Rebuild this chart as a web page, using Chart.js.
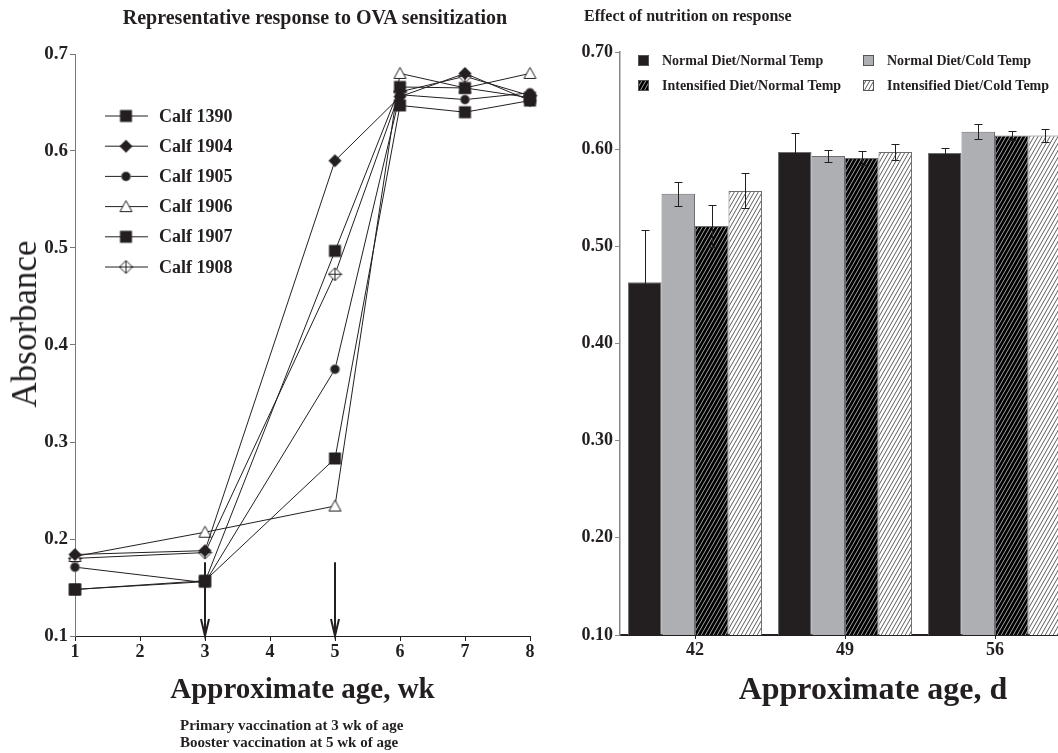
<!DOCTYPE html>
<html>
<head>
<meta charset="utf-8">
<script src="https://cdn.jsdelivr.net/npm/chart.js@4.4.0/dist/chart.umd.min.js"></script>
<style>
    html, body { margin: 0; padding: 0; width: 1058px; height: 753px; overflow: hidden; background: #fff; }
    body { font-family: "Liberation Serif", "Times New Roman", serif; color: #231f20; }
    #left { position: absolute; left: 0; top: 0; width: 560px; height: 753px; }
    #right { position: absolute; left: 560px; top: 0; width: 520px; height: 753px; }
    .lbl { position: absolute; white-space: nowrap; }
    .leftTitle { left: 0; width: 630px; top: 6px; text-align: center; font-weight: bold; font-size: 20px; }
    .rightTitle { left: 584px; top: 7px; font-weight: bold; font-size: 16px; }
    .yTitle { left: 25px; top: 324px; font-size: 35px; transform: translate(-50%, -50%) rotate(-90deg); }
    .xTitleRight { left: 873px; top: 688px; font-weight: bold; font-size: 32px; transform: translate(-50%, -50%); }
    .note { left: 180px; top: 717px; font-weight: bold; font-size: 15px; line-height: 17px; }
</style>
</head>
<body>
<div id="left"><canvas id="ovaChart"></canvas></div>
<div id="right"><canvas id="dietChart"></canvas></div>
<div class="lbl leftTitle">Representative response to OVA sensitization</div>
<div class="lbl rightTitle">Effect of nutrition on response</div>
<div class="lbl yTitle">Absorbance</div>
<div class="lbl xTitleRight">Approximate age, d</div>
<div class="lbl note">Primary vaccination at 3 wk of age<br>Booster vaccination at 5 wk of age</div>
<script>

// ---- left panel data ----
const weeks = [1, 3, 5, 6, 7, 8];
const calfNames = ["Calf 1390", "Calf 1904", "Calf 1905", "Calf 1906", "Calf 1907", "Calf 1908"];
const calf1390 = [0.148, 0.156, 0.497, 0.666, 0.665, 0.655];
const calf1904 = [0.184, 0.188, 0.590, 0.656, 0.680, 0.652];
const calf1905 = [0.171, 0.155, 0.375, 0.658, 0.653, 0.660];
const calf1906 = [0.182, 0.207, 0.234, 0.680, 0.665, 0.680];
const calf1907 = [0.148, 0.157, 0.283, 0.647, 0.640, 0.652];
const calf1908 = [0.180, 0.186, 0.473, 0.661, 0.677, 0.657];
const vaccinationWeeks = [3, 5];

// ---- right panel data ----
const days = ["42", "49", "56"];
const groupNames = [
    "Normal Diet/Normal Temp",
    "Normal Diet/Cold Temp",
    "Intensified Diet/Normal Temp",
    "Intensified Diet/Cold Temp"
];
const normalNormal = [0.463, 0.597, 0.596];
const normalCold = [0.554, 0.593, 0.618];
const intensNormal = [0.521, 0.591, 0.614];
const intensCold = [0.557, 0.597, 0.614];
const normalNormalErr = [0.054, 0.020, 0.005];
const normalColdErr = [0.012, 0.006, 0.008];
const intensNormalErr = [0.022, 0.007, 0.005];
const intensColdErr = [0.018, 0.008, 0.007];

const INK = "#231f20";
const SERIF = "'Liberation Serif', 'Times New Roman', serif";


function makeMarker(kind) {
    const c = document.createElement("canvas");
    c.width = 15;
    c.height = 15;
    const g = c.getContext("2d");
    g.fillStyle = INK;
    g.strokeStyle = INK;
    g.lineWidth = 1;
    if (kind === "square") {
        g.fillRect(1.5, 1.5, 12, 12);
    } else if (kind === "diamond" || kind === "crossDiamond") {
        g.beginPath();
        g.moveTo(7.5, 1); g.lineTo(14, 7.5); g.lineTo(7.5, 14); g.lineTo(1, 7.5);
        g.closePath();
        if (kind === "diamond") {
            g.fill();
        } else {
            g.fillStyle = "#fff";
            g.fill();
            g.stroke();
            g.beginPath();
            g.moveTo(7.5, 1); g.lineTo(7.5, 14);
            g.moveTo(1, 7.5); g.lineTo(14, 7.5);
            g.stroke();
        }
    } else if (kind === "circle") {
        g.beginPath();
        g.arc(7.5, 7.5, 5, 0, Math.PI * 2);
        g.fillStyle = "#888";
        g.fill();
        g.beginPath();
        g.arc(7.5, 7.5, 4.2, 0, Math.PI * 2);
        g.fillStyle = INK;
        g.fill();
    } else if (kind === "triangle") {
        g.beginPath();
        g.moveTo(7.5, 1.5); g.lineTo(13.5, 12.5); g.lineTo(1.5, 12.5);
        g.closePath();
        g.fillStyle = "#fff";
        g.fill();
        g.stroke();
    }
    return c;
}


function makeHatch(bg, fg) {
    const w = 4, h = 7;
    const c = document.createElement("canvas");
    c.width = w;
    c.height = h;
    const g = c.getContext("2d");
    g.fillStyle = bg;
    g.fillRect(0, 0, w, h);
    g.strokeStyle = fg;
    g.lineWidth = 0.8;
    for (let k = -1; k <= 1; k++) {
        g.beginPath();
        g.moveTo(k * w, h);
        g.lineTo(k * w + w, 0);
        g.stroke();
    }
    return g.createPattern(c, "repeat");
}


const markerKinds = ["square", "diamond", "circle", "triangle", "square", "crossDiamond"];
const calfSeries = [calf1390, calf1904, calf1905, calf1906, calf1907, calf1908];

const ovaLegend = {
    id: "ovaLegend",
    afterDraw(chart) {
        const ctx = chart.ctx;
        ctx.save();
        ctx.font = "bold 18px " + SERIF;
        ctx.fillStyle = INK;
        ctx.textBaseline = "middle";
        chart.data.datasets.forEach((ds, i) => {
            const y = 116 + i * 30.2;
            ctx.strokeStyle = INK;
            ctx.lineWidth = 1;
            ctx.beginPath();
            ctx.moveTo(105, y);
            ctx.lineTo(148, y);
            ctx.stroke();
            const img = ds.pointStyle;
            ctx.drawImage(img, 126 - img.width / 2, y - img.height / 2);
            ctx.fillText(ds.label, 159, y + 1);
        });
        ctx.restore();
    }
};

const vaccinationArrows = {
    id: "vaccinationArrows",
    afterDatasetsDraw(chart) {
        const { ctx, scales: { x, y } } = chart;
        ctx.save();
        ctx.strokeStyle = INK;
        ctx.lineWidth = 2;
        vaccinationWeeks.forEach(w => {
            const px = x.getPixelForValue(w);
            const top = y.getPixelForValue(0.176);
            const bot = y.getPixelForValue(0.1);
            ctx.beginPath();
            ctx.moveTo(px, top);
            ctx.lineTo(px, bot);
            ctx.moveTo(px - 4, bot - 17);
            ctx.lineTo(px, bot);
            ctx.lineTo(px + 4, bot - 17);
            ctx.stroke();
        });
        ctx.restore();
    }
};

new Chart(document.querySelector("#ovaChart"), {
    type: "line",
    data: {
        datasets: calfSeries.map((vals, i) => ({
            label: calfNames[i],
            data: vals.map((v, j) => ({ x: weeks[j], y: v })),
            borderColor: INK,
            borderWidth: 1,
            pointStyle: makeMarker(markerKinds[i]),
            tension: 0,
            clip: false
        }))
    },
    options: {
        responsive: true,
        maintainAspectRatio: false,
        animation: false,
        layout: { padding: { left: 0, right: 30, top: 54, bottom: 0 } },
        plugins: {
            legend: { display: false },
            tooltip: { enabled: false }
        },
        scales: {
            x: {
                type: "linear",
                min: 1,
                max: 8,
                ticks: { stepSize: 1, color: INK, font: { family: SERIF, size: 18, weight: "bold" }, padding: 1 },
                grid: { drawOnChartArea: false, drawTicks: true, tickLength: 5, color: INK },
                border: { display: true, color: INK, width: 1 },
                title: {
                    display: true,
                    text: "Approximate age, wk",
                    color: INK,
                    font: { family: SERIF, size: 29, weight: "bold" },
                    padding: { top: 0, bottom: 45 }
                },
                afterFit: s => { s.height = 117; }
            },
            y: {
                min: 0.1,
                max: 0.7,
                ticks: {
                    stepSize: 0.1,
                    color: INK,
                    font: { family: SERIF, size: 19, weight: "bold" },
                    padding: 2,
                    callback: v => v.toFixed(1)
                },
                grid: { drawOnChartArea: false, drawTicks: true, tickLength: 5, color: "#777" },
                border: { display: true, color: "#777", width: 1 },
                afterFit: s => { s.width = 75; }
            }
        }
    },
    plugins: [ovaLegend, vaccinationArrows]
});


// ---- right panel ----
const dietLegend = {
    id: "dietLegend",
    afterDraw(chart) {
        const ctx = chart.ctx;
        const cols = [78, 303];
        const rows = [60, 85];
        ctx.save();
        ctx.font = "bold 14px " + SERIF;
        ctx.textBaseline = "middle";
        chart.data.datasets.forEach((ds, i) => {
            const bx = cols[i % 2];
            const by = rows[Math.floor(i / 2)];
            ctx.fillStyle = ds.backgroundColor;
            ctx.fillRect(bx, by - 5, 10, 10);
            ctx.strokeStyle = "#555";
            ctx.lineWidth = 1;
            ctx.strokeRect(bx + 0.5, by - 4.5, 10, 10);
            ctx.fillStyle = INK;
            ctx.fillText(ds.label, bx + 24, by + 1);
        });
        ctx.restore();
    }
};

const errorBars = {
    id: "errorBars",
    afterDatasetsDraw(chart) {
        const ctx = chart.ctx;
        const y = chart.scales.y;
        ctx.save();
        ctx.strokeStyle = INK;
        ctx.lineWidth = 1;
        chart.data.datasets.forEach((ds, i) => {
            chart.getDatasetMeta(i).data.forEach((bar, j) => {
                const v = ds.data[j];
                const e = ds.errors[j];
                const top = Math.round(y.getPixelForValue(v + e)) + 0.5;
                const bot = Math.round(y.getPixelForValue(v - e)) + 0.5;
                const bx = Math.round(bar.x) + 0.5;
                ctx.beginPath();
                ctx.moveTo(bx, top); ctx.lineTo(bx, bot);
                ctx.moveTo(bx - 4, top); ctx.lineTo(bx + 4, top);
                ctx.moveTo(bx - 4, bot); ctx.lineTo(bx + 4, bot);
                ctx.stroke();
            });
        });
        ctx.restore();
    }
};

const barValues = [normalNormal, normalCold, intensNormal, intensCold];
const barErrors = [normalNormalErr, normalColdErr, intensNormalErr, intensColdErr];
const barFills = [INK, "#adafb2", makeHatch("#000", "#d0d0d0"), makeHatch("#fff", "#333")];

new Chart(document.querySelector("#dietChart"), {
    type: "bar",
    data: {
        labels: days,
        datasets: barValues.map((vals, i) => ({
            label: groupNames[i],
            data: vals,
            errors: barErrors[i],
            backgroundColor: barFills[i],
            borderColor: "#6d6e71",
            borderWidth: 1,
            categoryPercentage: 0.893,
            barPercentage: 1.0
        }))
    },
    options: {
        responsive: true,
        maintainAspectRatio: false,
        animation: false,
        layout: { padding: { left: 0, right: 10, top: 52, bottom: 0 } },
        plugins: {
            legend: { display: false },
            tooltip: { enabled: false }
        },
        scales: {
            x: {
                ticks: { color: INK, font: { family: SERIF, size: 18, weight: "bold" }, padding: 1 },
                grid: { drawOnChartArea: false, drawTicks: true, tickLength: 4, color: INK, offset: false },
                border: { display: true, color: INK, width: 2 },
                afterFit: s => { s.height = 118; }
            },
            y: {
                min: 0.1,
                max: 0.7,
                ticks: {
                    stepSize: 0.1,
                    color: INK,
                    font: { family: SERIF, size: 18, weight: "bold" },
                    padding: 2,
                    callback: v => v.toFixed(2)
                },
                grid: { drawOnChartArea: false, drawTicks: true, tickLength: 5, color: "#888" },
                border: { display: true, color: "#888", width: 1.5 },
                afterFit: s => { s.width = 60; }
            }
        }
    },
    plugins: [dietLegend, errorBars]
});

</script>
</body>
</html>
